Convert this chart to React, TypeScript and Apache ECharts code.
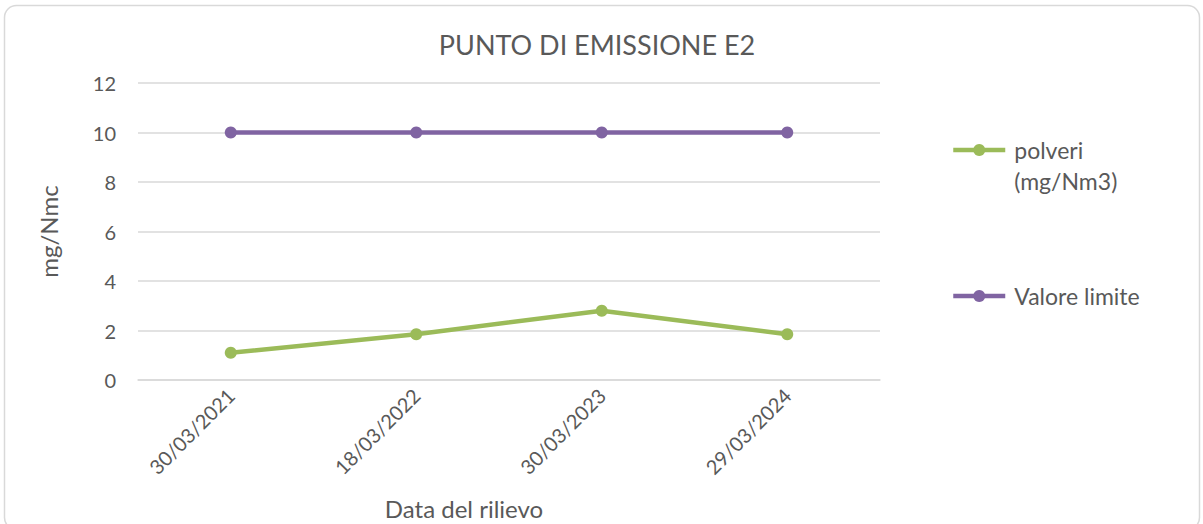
import React, { useEffect, useRef } from "react";
import * as echarts from "echarts";

const categories = ["30/03/2021", "18/03/2022", "30/03/2023", "29/03/2024"];
const polveri = [1.1, 1.85, 2.8, 1.85];
const valoreLimite = [10, 10, 10, 10];
const yTicks = { min: 0, max: 12, interval: 2 };

const FONT = "Lato, 'Open Sans', sans-serif";
const TXT = "#595959";

export default function App() {
  const ref = useRef<HTMLDivElement>(null);
  useEffect(() => {
    if (!ref.current) return;
    const chart = echarts.init(ref.current, null, { renderer: "svg" });
    chart.setOption({
      animation: false,
      backgroundColor: "#ffffff",
      textStyle: { fontFamily: FONT },
      title: {
        text: "PUNTO DI EMISSIONE E2",
        left: 592,
        top: 26,
        textAlign: "center",
        textStyle: { fontFamily: FONT, fontSize: 27, fontWeight: "normal", color: TXT },
      },
      graphic: [
        {
          type: "rect",
          shape: { x: 4.5, y: 5.5, width: 1195, height: 524, r: 12 },
          style: { fill: "none", stroke: "#d9d9d9", lineWidth: 1.5 },
          silent: true,
        },
        {
          type: "text",
          x: 464,
          y: 508,
          style: {
            text: "Data del rilievo",
            fontFamily: FONT,
            fontSize: 24,
            fill: TXT,
            align: "center",
            verticalAlign: "middle",
          },
        },
      ],
      legend: [
        {
          data: ["polveri\n(mg/Nm3)"],
          formatter: (name: string) => "\n" + name,
          left: 951,
          top: 150 - 46.5,
          padding: 0,
          orient: "vertical",
          itemWidth: 52,
          itemHeight: 15,
          lineStyle: { width: 4.5 },
          textStyle: {
            fontFamily: FONT,
            fontSize: 23,
            color: TXT,
            lineHeight: 31,
            padding: [0, 0, 0, 4],
          },
        },
        {
          data: ["Valore limite"],
          left: 951,
          top: 296 - 15.5,
          padding: 0,
          orient: "vertical",
          itemWidth: 52,
          itemHeight: 15,
          lineStyle: { width: 4.5 },
          textStyle: {
            fontFamily: FONT,
            fontSize: 23,
            color: TXT,
            lineHeight: 31,
            padding: [0, 0, 0, 4],
          },
        },
      ],
      grid: { left: 138, right: 323, top: 83, bottom: 144, containLabel: false },
      xAxis: {
        type: "category",
        data: categories,
        boundaryGap: true,
        axisLine: { show: true, lineStyle: { color: "#d9d9d9", width: 1.5 } },
        axisTick: { show: false },
        axisLabel: { rotate: 45, fontSize: 20, color: TXT, fontFamily: FONT, margin: 12 },
      },
      yAxis: {
        type: "value",
        min: yTicks.min,
        max: yTicks.max,
        interval: yTicks.interval,
        name: "mg/Nmc",
        nameLocation: "middle",
        nameRotate: 90,
        nameGap: 78,
        nameTextStyle: { fontFamily: FONT, fontSize: 24, color: TXT },
        axisLine: { show: false },
        axisTick: { show: false },
        axisLabel: { fontSize: 20, color: TXT, fontFamily: FONT, margin: 22 },
        splitLine: { lineStyle: { color: "#d9d9d9", width: 1.5 } },
      },
      series: [
        {
          name: "polveri\n(mg/Nm3)",
          type: "line",
          data: polveri,
          symbol: "circle",
          symbolSize: 12,
          itemStyle: { color: "#9bbb59" },
          lineStyle: { color: "#9bbb59", width: 4.5 },
        },
        {
          name: "Valore limite",
          type: "line",
          data: valoreLimite,
          symbol: "circle",
          symbolSize: 12,
          itemStyle: { color: "#8064a2" },
          lineStyle: { color: "#8064a2", width: 4.5 },
        },
      ],
    });
    return () => chart.dispose();
  }, []);
  return (
    <div
      ref={ref}
      style={{ position: "absolute", left: 0, top: 0, width: 1203, height: 524 }}
    />
  );
}
